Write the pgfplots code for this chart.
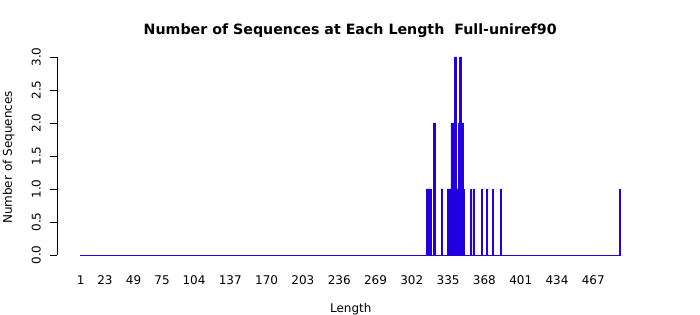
\documentclass[border=0pt]{standalone}
\usepackage{pgfplots}
\pgfplotsset{compat=1.18}
\usepackage{fontspec}
\setmainfont{DejaVu Sans}
\definecolor{barblue}{RGB}{34,0,224}
\begin{document}
\begin{tikzpicture}[x=1pt,y=1pt]
\useasboundingbox (0,0) rectangle (700,315);
\begin{axis}[
  at={(57pt,60pt)}, anchor=south west,
  scale only axis, width=586pt, height=198pt,
  xmin=-20.545, xmax=512.18, ymin=0, ymax=3,
  clip=false,
  axis lines*=left,
  x axis line style={draw=none},
  y axis line style={line width=0.75pt},
  xtick={1,23,49,75,104,137,170,203,236,269,302,335,368,401,434,467},
  xticklabels={1,23,49,75,104,137,170,203,236,269,302,335,368,401,434,467},
  xtick style={draw=none},
  ytick={0,0.5,1,1.5,2,2.5,3},
  yticklabels={0.0,0.5,1.0,1.5,2.0,2.5,3.0},
  ytick style={line width=0.75pt, black},
  tick align=outside, major tick length=7pt,
  tick label style={font=\fontsize{12}{14}\selectfont},
  xticklabel style={anchor=base, yshift=-23pt},
  yticklabel style={rotate=90, anchor=base, yshift=9.3pt},
  /pgf/number format/assume math mode=true,
]
\addplot[barblue, line width=0.75pt] coordinates {(0,0) (491.4,0)};
\addplot[ybar, bar width=0.833, fill=barblue, draw=barblue, line width=0.6pt] coordinates {
(316,1) (317,1) (318,1) (319,1)
(322,2) (323,2)
(329,1)
(335,1) (336,1) (337,1)
(338,2) (339,2) (340,2)
(341,3) (342,3)
(343,1) (344,1)
(345,2)
(346,3) (347,3)
(348,2)
(349,1)
(356,1) (358,1) (366,1) (370,1) (376,1) (383,1)
(491,1)
};
\end{axis}
\node[anchor=base, font=\fontsize{14.2}{16}\selectfont\bfseries] at (350.2,280.7) {Number of Sequences at Each Length\ \ Full-uniref90};
\node[anchor=base, font=\fontsize{12}{14}\selectfont] at (350.8,2) {Length};
\node[anchor=base, rotate=90, font=\fontsize{12}{14}\selectfont] at (12,157.5) {Number of Sequences};
\end{tikzpicture}
\end{document}
